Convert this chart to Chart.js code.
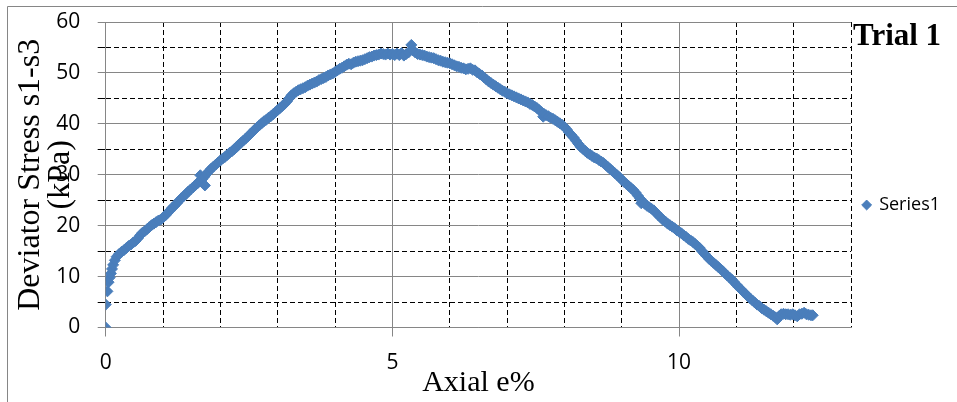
<!DOCTYPE html>
<html>
<head>
<meta charset="utf-8">
<script src="https://cdn.jsdelivr.net/npm/chart.js@4.4.1/dist/chart.umd.min.js"></script>
<style>
  html, body { margin: 0; padding: 0; background: #ffffff; }
  canvas { display: block; }
</style>
</head>
<body>
<canvas id="c" width="957" height="402"></canvas>
<script>
// ---- data ----
const seriesName = 'Series1';
const chartLabel = 'Trial 1';
const xAxisTitle = 'Axial e%';
const yAxisTitle = ['Deviator Stress s1-s3', '(kPa)'];
const xTickLabels = [0, 5, 10];
const yTickLabels = [0, 10, 20, 30, 40, 50, 60];

const axialStrain = [
  0, 0, 0.03, 0.05, 0.07, 0.09, 0.11, 0.13, 0.16, 0.19, 0.23, 0.28,
  0.32, 0.36, 0.40, 0.44, 0.48, 0.52, 0.56, 0.60, 0.64, 0.68, 0.72, 0.76, 0.80, 0.84, 0.88, 0.92, 0.96, 1.00,
  1.04, 1.08, 1.12, 1.16, 1.20, 1.24, 1.28, 1.32, 1.36, 1.40, 1.44, 1.48, 1.52, 1.56, 1.60, 1.64, 1.65, 1.68, 1.72, 1.73, 1.76, 1.80, 1.84, 1.88, 1.92, 1.96, 2.00, 2.04, 2.08, 2.12, 2.16, 2.20, 2.24,
  2.28, 2.32, 2.36, 2.40, 2.44, 2.48, 2.52, 2.56, 2.60, 2.64, 2.68, 2.72, 2.76, 2.80, 2.84, 2.88, 2.92, 2.96, 3.00,
  3.04, 3.08, 3.12, 3.16, 3.20, 3.24, 3.28, 3.32, 3.36, 3.40, 3.44, 3.48, 3.52, 3.56, 3.60, 3.64, 3.68, 3.72, 3.76, 3.80, 3.84, 3.88, 3.92, 3.96, 4.00, 4.04, 4.08, 4.12, 4.16, 4.20, 4.24,
  4.28, 4.32, 4.36, 4.40, 4.44, 4.48, 4.52, 4.56, 4.60, 4.64, 4.68, 4.72, 4.76, 4.80, 4.84, 4.88, 4.92, 4.96, 5.00, 5.04, 5.08, 5.12, 5.16, 5.20, 5.24, 5.28,
  5.33, 5.36, 5.40, 5.44, 5.48, 5.52, 5.56, 5.60, 5.64, 5.68, 5.72, 5.76, 5.80, 5.84, 5.88, 5.92, 5.96, 6.00, 6.04, 6.08, 6.12, 6.16, 6.20, 6.24, 6.28,
  6.32, 6.36, 6.40, 6.44, 6.48, 6.52, 6.56, 6.60, 6.64, 6.68, 6.72, 6.76, 6.80, 6.84, 6.88, 6.92, 6.96, 7.00, 7.04, 7.08, 7.12, 7.16, 7.20, 7.24, 7.28, 7.32, 7.36, 7.40, 7.44, 7.48, 7.52, 7.56, 7.60,
  7.63, 7.64, 7.68, 7.72, 7.76, 7.80, 7.84, 7.88, 7.92, 7.96, 8.00, 8.04, 8.08, 8.12, 8.16, 8.20, 8.24, 8.28,
  8.32, 8.36, 8.40, 8.44, 8.48, 8.52, 8.56, 8.60, 8.64, 8.68, 8.72, 8.76, 8.80, 8.84, 8.88, 8.92, 8.96, 9.00, 9.04, 9.08, 9.12, 9.16, 9.20, 9.24, 9.28, 9.32,
  9.34, 9.36, 9.40, 9.44, 9.48, 9.52, 9.56, 9.60, 9.64, 9.68, 9.72, 9.76, 9.80, 9.84, 9.88, 9.92, 9.96, 10.00, 10.04, 10.08, 10.12, 10.16, 10.20, 10.24, 10.28, 10.32,
  10.36, 10.40, 10.44, 10.48, 10.52, 10.56, 10.60, 10.64, 10.68, 10.72, 10.76, 10.80, 10.84, 10.88, 10.92, 10.96, 11.00, 11.04, 11.08, 11.12, 11.16, 11.20, 11.24, 11.28, 11.32, 11.36, 11.40, 11.44, 11.48, 11.52, 11.56, 11.60, 11.64, 11.68,
  11.71, 11.74, 11.78, 11.82, 11.86, 11.90, 11.94, 11.98, 12.02, 12.06, 12.10, 12.14, 12.18, 12.22, 12.26, 12.30, 12.33
];

const deviatorStress = [
  0, 4.5, 7.1, 8.9, 9.8, 10.6, 11.5, 12.3, 13.2, 13.9, 14.4, 14.9,
  15.2, 15.6, 16.0, 16.3, 16.7, 17.0, 17.5, 18.1, 18.6, 18.9, 19.3, 19.7, 20.1, 20.4, 20.7, 21.0, 21.2, 21.6,
  22.0, 22.5, 23.0, 23.5, 23.9, 24.4, 24.9, 25.4, 25.8, 26.2, 26.7, 27.1, 27.5, 27.9, 28.3, 28.8, 29.9, 29.1, 29.6, 27.9, 30.2, 30.7, 31.2, 31.6, 32.0, 32.4, 32.8, 33.2, 33.5, 33.9, 34.3, 34.6, 35.0,
  35.4, 35.9, 36.3, 36.7, 37.1, 37.5, 38.0, 38.4, 38.9, 39.3, 39.7, 40.1, 40.5, 40.8, 41.2, 41.5, 41.9, 42.3, 42.7,
  43.1, 43.5, 43.9, 44.4, 45.0, 45.6, 46.0, 46.3, 46.6, 46.8, 47.0, 47.2, 47.5, 47.7, 47.9, 48.1, 48.3, 48.6, 48.8, 49.0, 49.2, 49.5, 49.7, 49.9, 50.2, 50.5, 50.8, 51.0, 51.3, 51.6, 51.8,
  51.7, 52.0, 52.2, 52.3, 52.4, 52.5, 52.7, 52.9, 53.1, 53.2, 53.4, 53.5, 53.6, 53.8, 53.7, 53.6, 53.8, 53.6, 53.7, 53.5, 53.8, 53.5, 53.9, 53.4, 53.7, 54.0,
  55.5, 54.4, 54.0, 53.7, 53.6, 53.5, 53.4, 53.2, 53.1, 53.0, 52.9, 52.7, 52.5, 52.4, 52.2, 52.1, 52.0, 51.9, 51.7, 51.5, 51.3, 51.2, 51.0, 50.9, 50.7,
  50.8, 50.9, 50.6, 50.5, 50.1, 49.8, 49.5, 49.1, 48.7, 48.3, 48.0, 47.7, 47.4, 47.1, 46.8, 46.5, 46.3, 46.0, 45.8, 45.6, 45.4, 45.2, 45.0, 44.8, 44.6, 44.4, 44.2, 43.9, 43.7, 43.4, 43.1, 42.7, 42.3,
  41.4, 42.0, 41.7, 41.5, 41.2, 41.0, 40.7, 40.4, 40.1, 39.8, 39.4, 38.9, 38.3, 37.8, 37.3, 36.7, 36.1, 35.5,
  35.1, 34.7, 34.3, 34.0, 33.7, 33.4, 33.2, 32.9, 32.6, 32.3, 31.9, 31.5, 31.1, 30.7, 30.3, 29.9, 29.5, 29.0, 28.6, 28.2, 27.8, 27.4, 27.0, 26.5, 25.9, 25.3,
  24.4, 24.8, 24.3, 23.9, 23.6, 23.3, 23.0, 22.5, 22.0, 21.6, 21.1, 20.8, 20.4, 20.1, 19.8, 19.5, 19.1, 18.8, 18.5, 18.1, 17.8, 17.4, 17.1, 16.8, 16.4, 16.0,
  15.6, 15.0, 14.5, 14.0, 13.5, 13.1, 12.7, 12.3, 11.9, 11.5, 11.1, 10.6, 10.2, 9.8, 9.4, 8.9, 8.4, 7.9, 7.5, 7.0, 6.6, 6.1, 5.7, 5.3, 4.9, 4.5, 4.2, 3.8, 3.5, 3.2, 2.9, 2.6, 2.3, 2.0,
  1.6, 2.2, 2.6, 2.7, 2.6, 2.6, 2.5, 2.6, 2.4, 2.2, 2.6, 2.7, 2.9, 2.6, 2.5, 2.4, 2.4
];

// ---- styling ----
const BLUE = '#4A7EBB';
const GRAY = '#868686';
const BLACK = '#000000';
const DASH = [5, 3];

const points = axialStrain.map((x, i) => ({ x: x, y: deviatorStress[i] }));

const decorPlugin = {
  id: 'decor',
  beforeDraw(chart) {
    const ctx = chart.ctx;
    ctx.save();
    ctx.strokeStyle = GRAY;
    ctx.lineWidth = 1;
    ctx.beginPath();
    ctx.moveTo(7.5, 402);
    ctx.lineTo(7.5, 6.5);
    ctx.lineTo(957, 6.5);
    ctx.stroke();
    ctx.restore();
  },
  afterDraw(chart) {
    const ctx = chart.ctx;
    ctx.save();
    ctx.fillStyle = BLACK;
    ctx.font = 'bold 31px "Liberation Serif"';
    ctx.textAlign = 'left';
    ctx.textBaseline = 'alphabetic';
    ctx.fillText(chartLabel, 853, 45);
    ctx.restore();
  }
};

new Chart(document.getElementById('c'), {
  type: 'scatter',
  data: {
    datasets: [{
      label: seriesName,
      data: points,
      pointStyle: 'rectRot',
      pointRadius: 5.5,
      pointHoverRadius: 5.5,
      backgroundColor: BLUE,
      borderColor: BLUE,
      pointBorderWidth: 1
    }]
  },
  options: {
    responsive: false,
    animation: false,
    events: [],
    layout: { padding: { top: 22, right: 7, bottom: 14, left: 0 } },
    plugins: {
      tooltip: { enabled: false },
      title: { display: false },
      legend: {
        display: true,
        position: 'right',
        labels: {
          usePointStyle: true,
          pointStyle: 'rectRot',
          boxWidth: 7,
          boxHeight: 7,
          padding: 12,
          color: BLACK,
          font: { family: '"Open Sans", "Liberation Sans", sans-serif', size: 18 }
        }
      }
    },
    scales: {
      x: {
        type: 'linear',
        min: 0,
        max: 13,
        afterFit: (s) => { s.height = 60.5; },
        afterBuildTicks: (s) => {
          s.ticks = Array.from({ length: 14 }, (_, i) => ({ value: i }));
        },
        ticks: {
          autoSkip: false,
          maxRotation: 0,
          padding: 14,
          color: BLACK,
          font: { family: '"Open Sans", "Liberation Sans", sans-serif', size: 21 },
          callback: (v) => (xTickLabels.includes(v) ? String(v) : '')
        },
        grid: {
          color: (c) => (c.tick && c.tick.value % 5 === 0 ? GRAY : BLACK),
          lineWidth: 1,
          tickLength: 9,
          tickColor: (c) => (c.tick && c.tick.value % 5 === 0 ? GRAY : 'rgba(0,0,0,0)')
        },
        border: {
          color: GRAY,
          width: 1,
          dash: (c) => (c.type === 'tick' && c.tick && c.tick.value % 5 !== 0 ? DASH : [])
        },
        title: {
          display: true,
          text: xAxisTitle,
          color: BLACK,
          font: { family: '"Liberation Serif", serif', size: 30, lineHeight: 1 },
          padding: { top: 0, bottom: -10 }
        }
      },
      y: {
        type: 'linear',
        min: 0,
        max: 60,
        afterFit: (s) => { s.width = 105.7; s.paddingTop = 0; s.paddingBottom = 0; },
        afterBuildTicks: (s) => {
          s.ticks = Array.from({ length: 13 }, (_, i) => ({ value: i * 5 }));
        },
        ticks: {
          autoSkip: false,
          padding: 17.5,
          color: BLACK,
          font: { family: '"Open Sans", "Liberation Sans", sans-serif', size: 21 },
          callback: (v) => (yTickLabels.includes(v) ? String(v) : '')
        },
        grid: {
          color: (c) => (c.tick && c.tick.value % 10 === 0 ? GRAY : BLACK),
          lineWidth: 1,
          tickLength: 8,
          tickColor: (c) => (c.tick && c.tick.value % 10 === 0 ? GRAY : BLACK)
        },
        border: {
          color: GRAY,
          width: 1,
          dash: (c) => (c.type === 'tick' && c.tick && c.tick.value % 10 !== 0 ? DASH : [])
        },
        title: {
          display: true,
          text: yAxisTitle,
          color: BLACK,
          font: { family: '"Liberation Serif", serif', size: 32, lineHeight: '30px' },
          padding: { top: 16, bottom: 0 }
        }
      }
    }
  },
  plugins: [decorPlugin]
});
</script>
</body>
</html>
